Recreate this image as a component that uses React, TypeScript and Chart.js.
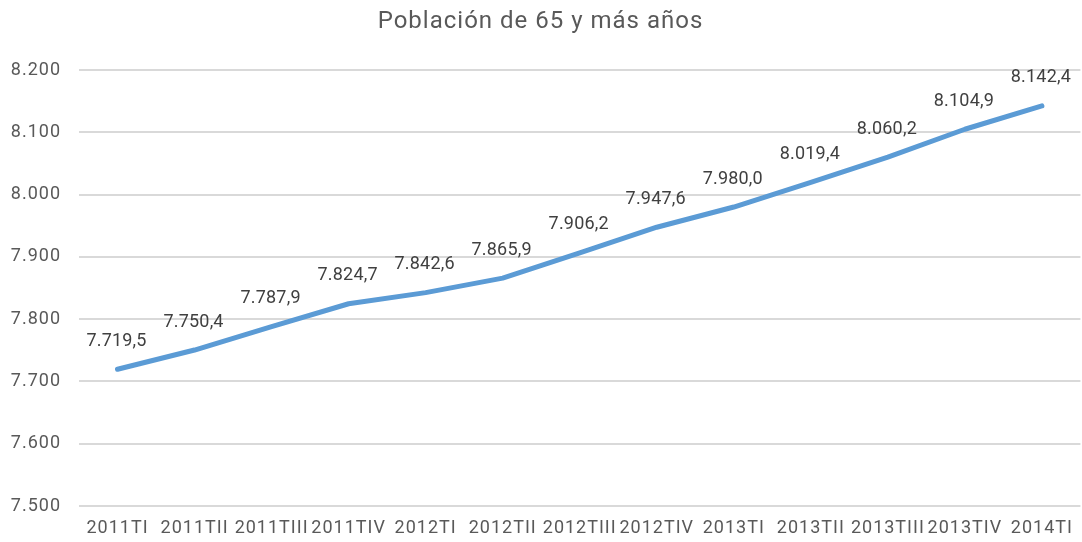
import React, { useEffect, useRef } from "react";
import { Chart, registerables } from "chart.js";

Chart.register(...registerables);

const categories = [
  "2011TI", "2011TII", "2011TIII", "2011TIV",
  "2012TI", "2012TII", "2012TIII", "2012TIV",
  "2013TI", "2013TII", "2013TIII", "2013TIV",
  "2014TI",
];
const values = [
  7719.5, 7750.4, 7787.9, 7824.7,
  7842.6, 7865.9, 7906.2, 7947.6,
  7980.0, 8019.4, 8060.2, 8104.9,
  8142.4,
];
const yMin = 7500;
const yMax = 8200;
const yStep = 100;
const title = "Población de 65 y más años";

const FONT = "Roboto, 'Noto Sans', 'Liberation Sans', sans-serif";

function fmtThousands(n: number, decimals: number): string {
  const fixed = n.toFixed(decimals);
  const [intPart, dec] = fixed.split(".");
  const withSep = intPart.replace(/\B(?=(\d{3})+(?!\d))/g, ".");
  return dec !== undefined ? withSep + "," + dec : withSep;
}

const spacingPlugin = {
  id: "spacing",
  beforeDraw(chart: any) {
    (chart.ctx as any).letterSpacing = "1px";
  },
};

const labelPlugin = {
  id: "valueLabels",
  afterDatasetsDraw(chart: any) {
    const ctx = chart.ctx;
    const meta = chart.getDatasetMeta(0);
    ctx.save();
    (ctx as any).letterSpacing = "0.2px";
    ctx.font = `18px ${FONT}`;
    ctx.fillStyle = "#404040";
    ctx.textAlign = "center";
    ctx.textBaseline = "middle";
    meta.data.forEach((pt: any, i: number) => {
      ctx.fillText(fmtThousands(values[i], 1), pt.x - 1, pt.y - 28);
    });
    ctx.restore();
  },
};

export default function App() {
  const ref = useRef<HTMLCanvasElement | null>(null);
  useEffect(() => {
    if (!ref.current) return;
    const chart = new Chart(ref.current, {
      type: "line",
      data: {
        labels: categories,
        datasets: [
          {
            data: values,
            borderColor: "#5B9BD5",
            borderWidth: 5,
            borderCapStyle: "round",
            borderJoinStyle: "round",
            pointRadius: 0,
            tension: 0,
            fill: false,
          },
        ],
      },
      options: {
        animation: false,
        responsive: false,
        maintainAspectRatio: false,
        layout: { padding: { left: 0, right: 1, top: 0, bottom: 0 } },
        plugins: {
          legend: { display: false },
          tooltip: { enabled: false },
          title: {
            display: true,
            text: title,
            color: "#595959",
            font: { family: FONT, size: 24, weight: "normal" },
            padding: { top: 8, bottom: 33.2 },
          },
        },
        scales: {
          x: {
            offset: true,
            grid: { display: false, drawTicks: false },
            border: { display: false },
            ticks: {
              color: "#595959",
              font: { family: FONT, size: 18 },
              padding: 12,
              maxRotation: 0,
              autoSkip: false,
            },
            afterFit(scale: any) {
              scale.height = 36;
            },
          },
          y: {
            min: yMin,
            max: yMax,
            grid: { color: "#D9D9D9", lineWidth: 2, drawTicks: false },
            border: { display: false },
            ticks: {
              stepSize: yStep,
              color: "#595959",
              font: { family: FONT, size: 18 },
              padding: 18,
              callback: (v: any) => fmtThousands(Number(v), 0),
            },
            afterFit(scale: any) {
              scale.width = 79;
            },
          },
        },
      },
      plugins: [spacingPlugin, labelPlugin],
    });
    return () => chart.destroy();
  }, []);
  return (
    <div style={{ position: "fixed", left: 0, top: 0, width: 1082, height: 542, background: "#fff" }}>
      <canvas ref={ref} width={1082} height={542} style={{ width: 1082, height: 542 }} />
    </div>
  );
}
